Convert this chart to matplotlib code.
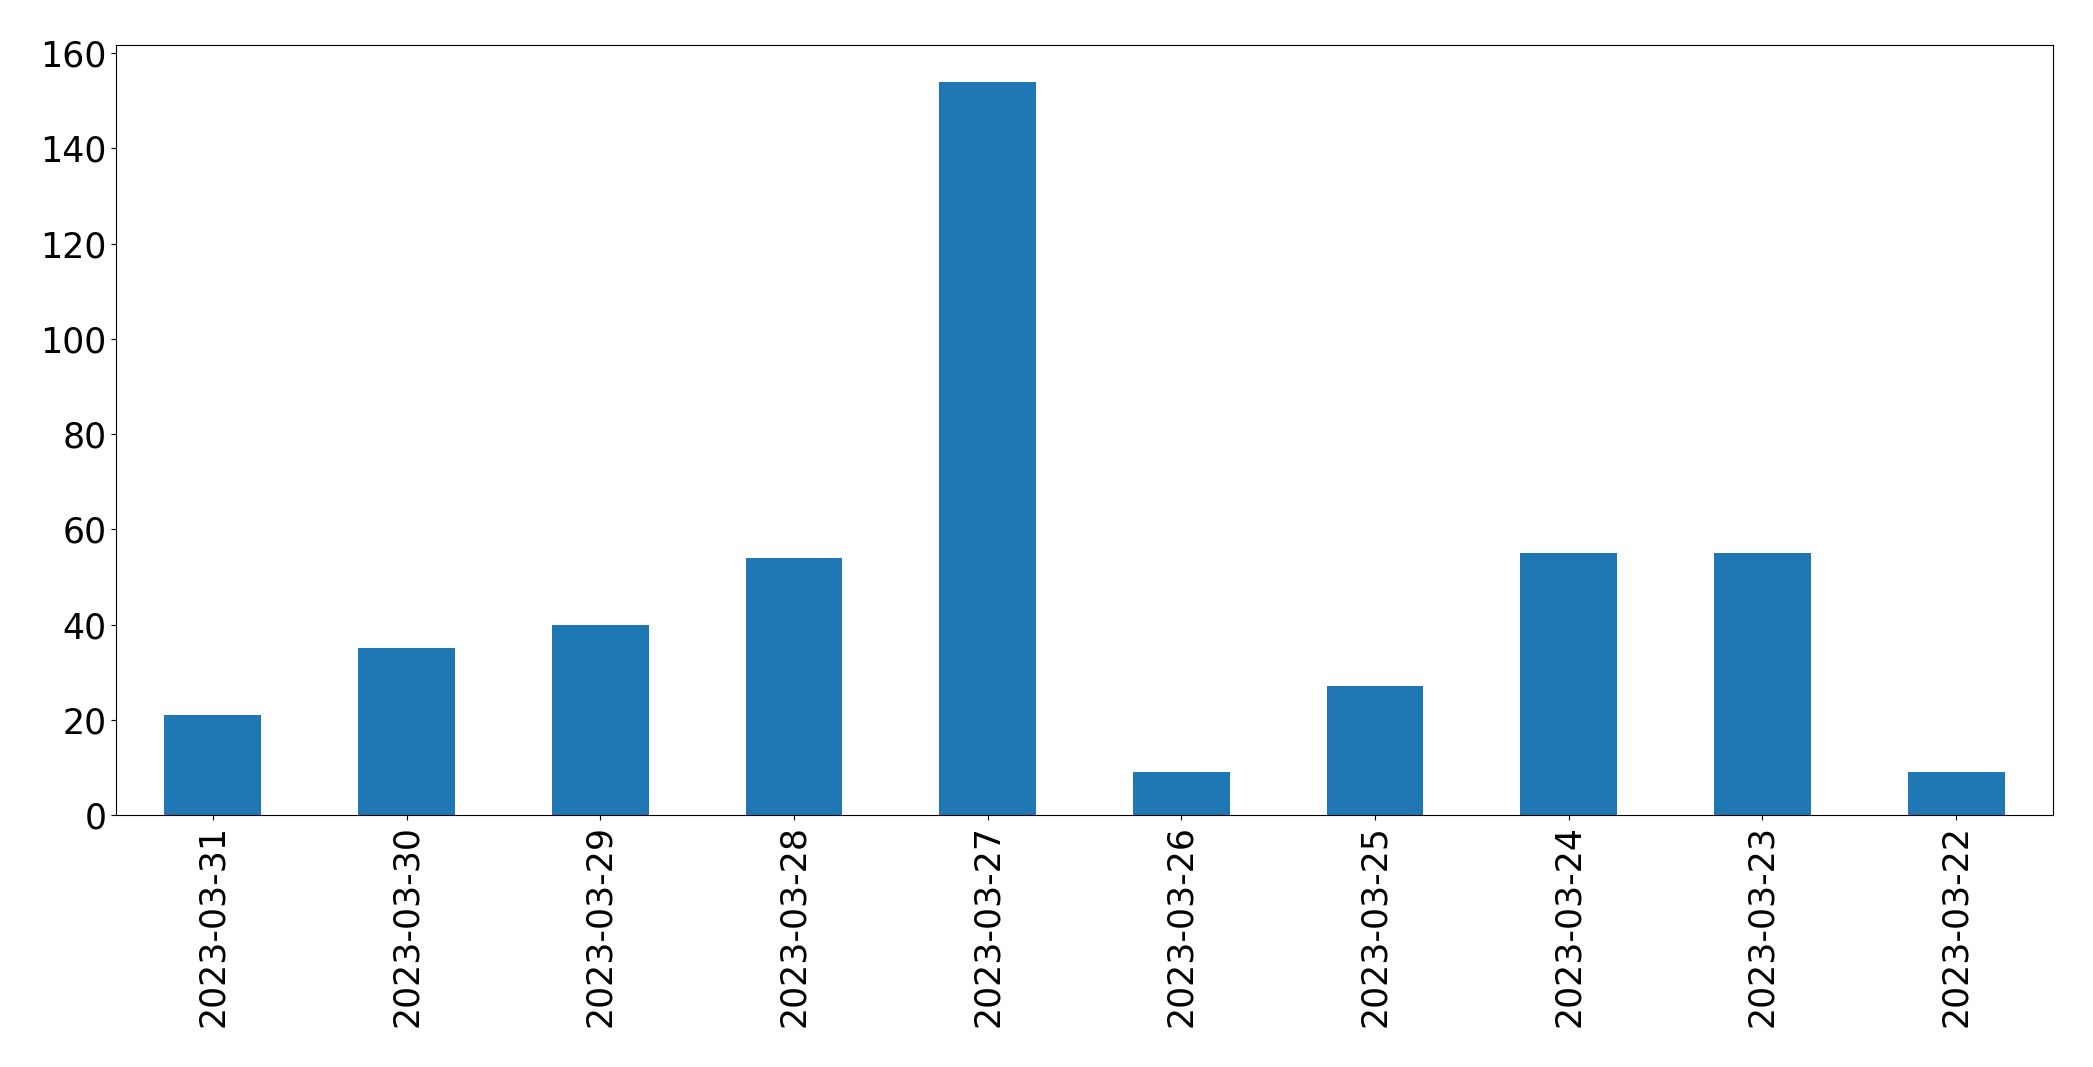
import numpy as np
import pandas as pd
import matplotlib.pyplot as plt

# Daily counts, newest first
dates = ['2023-03-31', '2023-03-30', '2023-03-29', '2023-03-28', '2023-03-27',
         '2023-03-26', '2023-03-25', '2023-03-24', '2023-03-23', '2023-03-22']
counts = [21, 35, 40, 54, 154, 9, 27, 55, 55, 9]

s = pd.Series(counts, index=dates)

fig = plt.figure(figsize=(20.93, 10.67), dpi=100)
ax = fig.add_axes([116 / 2093, 1 - 815 / 1067, (2053 - 116) / 2093, (815 - 45) / 1067])
s.plot(kind='bar', ax=ax, color='#1f77b4', width=0.5)
ax.tick_params(axis='both', labelsize=25)
plt.setp(ax.get_xticklabels(), rotation=90)

fig.savefig('out.png', dpi=100)
